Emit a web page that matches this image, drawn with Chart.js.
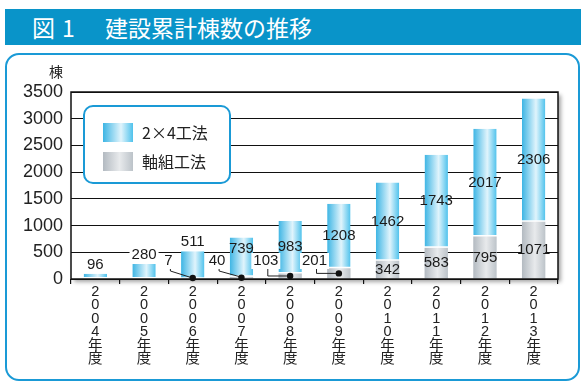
<!DOCTYPE html>
<html>
<head>
<meta charset="utf-8">
<script src="https://cdn.jsdelivr.net/npm/chart.js@4/dist/chart.umd.min.js"></script>
<style>
  body { margin: 0; background: #fff; }
  #wrap { position: relative; width: 585px; height: 386px; overflow: hidden; }
  #title { position: absolute; left: 5px; top: 9px; width: 576px; height: 36px; background: #0994c9;
           color: #fff; font-family: 'Noto Sans CJK JP', sans-serif; font-size: 23px; line-height: 36px; }
  #title span { position: absolute; top: 0; }
  #frame { position: absolute; left: 5px; top: 53px; width: 575px; height: 328px; box-sizing: border-box;
           border: 2px solid #1a9ad6; border-radius: 14px; }
  canvas { position: absolute; left: 0; top: 0; }
</style>
</head>
<body>
<div id="wrap">
  <div id="title"><span style="left:27px">図</span><span style="left:57px">1</span><span style="left:100px">建設累計棟数の推移</span></div>
  <div id="frame"></div>
  <canvas id="chart" width="585" height="386"></canvas>
</div>
<script>
// data
const years = ['2004', '2005', '2006', '2007', '2008', '2009', '2010', '2011', '2012', '2013'];
const twoByFour = [96, 280, 511, 739, 983, 1208, 1462, 1743, 2017, 2306];
const jikugumi = [0, 0, 7, 40, 103, 201, 342, 583, 795, 1071];
const seriesNames = ['2×4工法', '軸組工法'];
const yTicks = [0, 500, 1000, 1500, 2000, 2500, 3000, 3500];
const yUnit = '棟';

// each year label stacked vertically, one character per line
const tickLabels = years.map(y => [...y.split(''), '年', '度']);

const blueStops = [[0, '#3db5e4'], [0.6, '#e0f4fc'], [1, '#4fc2ec']];
const grayStops = [[0, '#b3bac1'], [0.55, '#e8eaec'], [1, '#bcc3c9']];
const BAR_PCT = 0.48;
const numFont = "15px 'Liberation Sans', sans-serif";

function grad(ctx, x0, w, stops) {
  const g = ctx.createLinearGradient(x0, 0, x0 + w, 0);
  stops.forEach(s => g.addColorStop(s[0], s[1]));
  return g;
}

function barFill(stops) {
  return function (c) {
    const chart = c.chart;
    const xs = chart.scales.x;
    if (!chart.chartArea || !xs) return stops[1][1];
    const w = xs.width / years.length * BAR_PCT;
    const x = xs.getPixelForValue(c.dataIndex);
    return grad(chart.ctx, x - w / 2, w, stops);
  };
}

function label(ctx, text, x, y, bg) {
  ctx.font = numFont;
  if (bg) {
    const w = ctx.measureText(text).width;
    ctx.fillStyle = '#fff';
    ctx.fillRect(x - w / 2 - 2, y - 8, w + 4, 16);
  }
  ctx.fillStyle = '#1a1a1a';
  ctx.textAlign = 'center';
  ctx.textBaseline = 'middle';
  ctx.fillText(text, x, y);
}

const decor = {
  id: 'decor',
  beforeDraw(chart) {
    const { ctx, chartArea: a } = chart;
    ctx.save();
    ctx.shadowColor = 'rgba(0,0,0,0.35)';
    ctx.shadowBlur = 4;
    ctx.shadowOffsetX = 3;
    ctx.shadowOffsetY = 3;
    ctx.fillStyle = '#fff';
    ctx.fillRect(a.left, a.top, a.width, a.height);
    ctx.restore();
  },
  afterDatasetsDraw(chart) {
    const { ctx, chartArea: a } = chart;
    const gMeta = chart.getDatasetMeta(0);
    const bMeta = chart.getDatasetMeta(1);
    const step = chart.scales.x.width / years.length;
    ctx.save();
    years.forEach((yr, i) => {
      const b = bMeta.data[i];
      const g = gMeta.data[i];
      // 2x4 values
      const h = b.base - b.y;
      if (h >= 45) label(ctx, String(twoByFour[i]), b.x, (b.y + b.base) / 2, false);
      else if (h >= 32) label(ctx, String(twoByFour[i]), b.x, b.y + 11, false);
      else label(ctx, String(twoByFour[i]), b.x, b.y - 9, true);
      // jikugumi values
      const v = jikugumi[i];
      if (!v) return;
      if (g.base - g.y >= 15) {
        label(ctx, String(v), g.x, (g.y + g.base) / 2, false);
      } else {
        const lx = b.x - step / 2;
        const ly = a.bottom - 18;
        const dy = (g.y + g.base) / 2;
        ctx.strokeStyle = '#222';
        ctx.lineWidth = 1;
        ctx.beginPath();
        ctx.moveTo(lx + 2, ly + 7);
        if (dy > a.bottom - 2) {
          ctx.lineTo(lx + 2, ly + 10);
          ctx.lineTo(g.x, dy - 0.5);
        } else {
          ctx.lineTo(lx + 2, dy);
          ctx.lineTo(g.x, dy);
        }
        ctx.stroke();
        ctx.fillStyle = '#111';
        ctx.beginPath();
        ctx.arc(g.x, Math.min(dy, a.bottom - 1), 3.2, 0, Math.PI * 2);
        ctx.fill();
        label(ctx, String(v), lx, ly, true);
      }
    });

    // legend box
    ctx.fillStyle = '#fff';
    ctx.strokeStyle = '#1a9ad6';
    ctx.lineWidth = 2;
    ctx.beginPath();
    ctx.roundRect(84, 106, 146, 77, 9);
    ctx.fill();
    ctx.stroke();
    ctx.fillStyle = grad(ctx, 103, 30, blueStops);
    ctx.fillRect(103, 123, 30, 19);
    ctx.fillStyle = grad(ctx, 103, 30, grayStops);
    ctx.fillRect(103, 152, 30, 19);
    ctx.fillStyle = '#222';
    ctx.font = "16px 'Noto Sans CJK JP', sans-serif";
    ctx.textAlign = 'left';
    ctx.textBaseline = 'middle';
    ctx.fillText(seriesNames[0], 142, 133);
    ctx.fillText(seriesNames[1], 142, 162);
    ctx.restore();
  },
  afterDraw(chart) {
    const { ctx, chartArea: a } = chart;
    ctx.save();
    ctx.strokeStyle = '#111';
    ctx.lineWidth = 1.5;
    ctx.strokeRect(a.left, a.top, a.width, a.height);
    ctx.fillStyle = '#222';
    ctx.font = "14px 'Noto Sans CJK JP', sans-serif";
    ctx.textAlign = 'center';
    ctx.textBaseline = 'middle';
    ctx.fillText(yUnit, 56, 72);
    ctx.restore();
  }
};

new Chart(document.getElementById('chart'), {
  type: 'bar',
  data: {
    labels: tickLabels,
    datasets: [
      {
        label: seriesNames[1],
        data: jikugumi,
        backgroundColor: barFill(grayStops),
        borderWidth: 0
      },
      {
        label: seriesNames[0],
        data: twoByFour,
        backgroundColor: barFill(blueStops),
        borderColor: '#fff',
        borderWidth: { top: 0, left: 0, right: 0, bottom: 1.5 },
        borderSkipped: false
      }
    ]
  },
  options: {
    responsive: false,
    animation: false,
    devicePixelRatio: 1,
    layout: { padding: { top: 92, right: 27, left: 0, bottom: 0 } },
    datasets: { bar: { barPercentage: BAR_PCT, categoryPercentage: 1 } },
    plugins: { legend: { display: false }, tooltip: { enabled: false } },
    scales: {
      x: {
        stacked: true,
        afterFit: s => { s.height = 107; },
        border: { display: false },
        grid: { offset: true, drawOnChartArea: false, drawTicks: true, tickLength: 5, color: '#111', lineWidth: 1.2 },
        ticks: {
          color: '#222', padding: 1, maxRotation: 0, autoSkip: false,
          font: { family: "'Liberation Sans', 'Noto Sans CJK JP', sans-serif", size: 14.5, lineHeight: 0.93 }
        }
      },
      y: {
        stacked: true,
        min: yTicks[0],
        max: yTicks[yTicks.length - 1],
        afterFit: s => { s.width = 71; },
        afterBuildTicks: s => { s.ticks = yTicks.map(v => ({ value: v })); },
        border: { display: false },
        grid: { color: '#111', lineWidth: 1, drawTicks: false },
        ticks: {
          color: '#222', padding: 8,
          callback: v => String(v),
          font: { family: "'Liberation Sans', sans-serif", size: 18 }
        }
      }
    }
  },
  plugins: [decor]
});
</script>
</body>
</html>
